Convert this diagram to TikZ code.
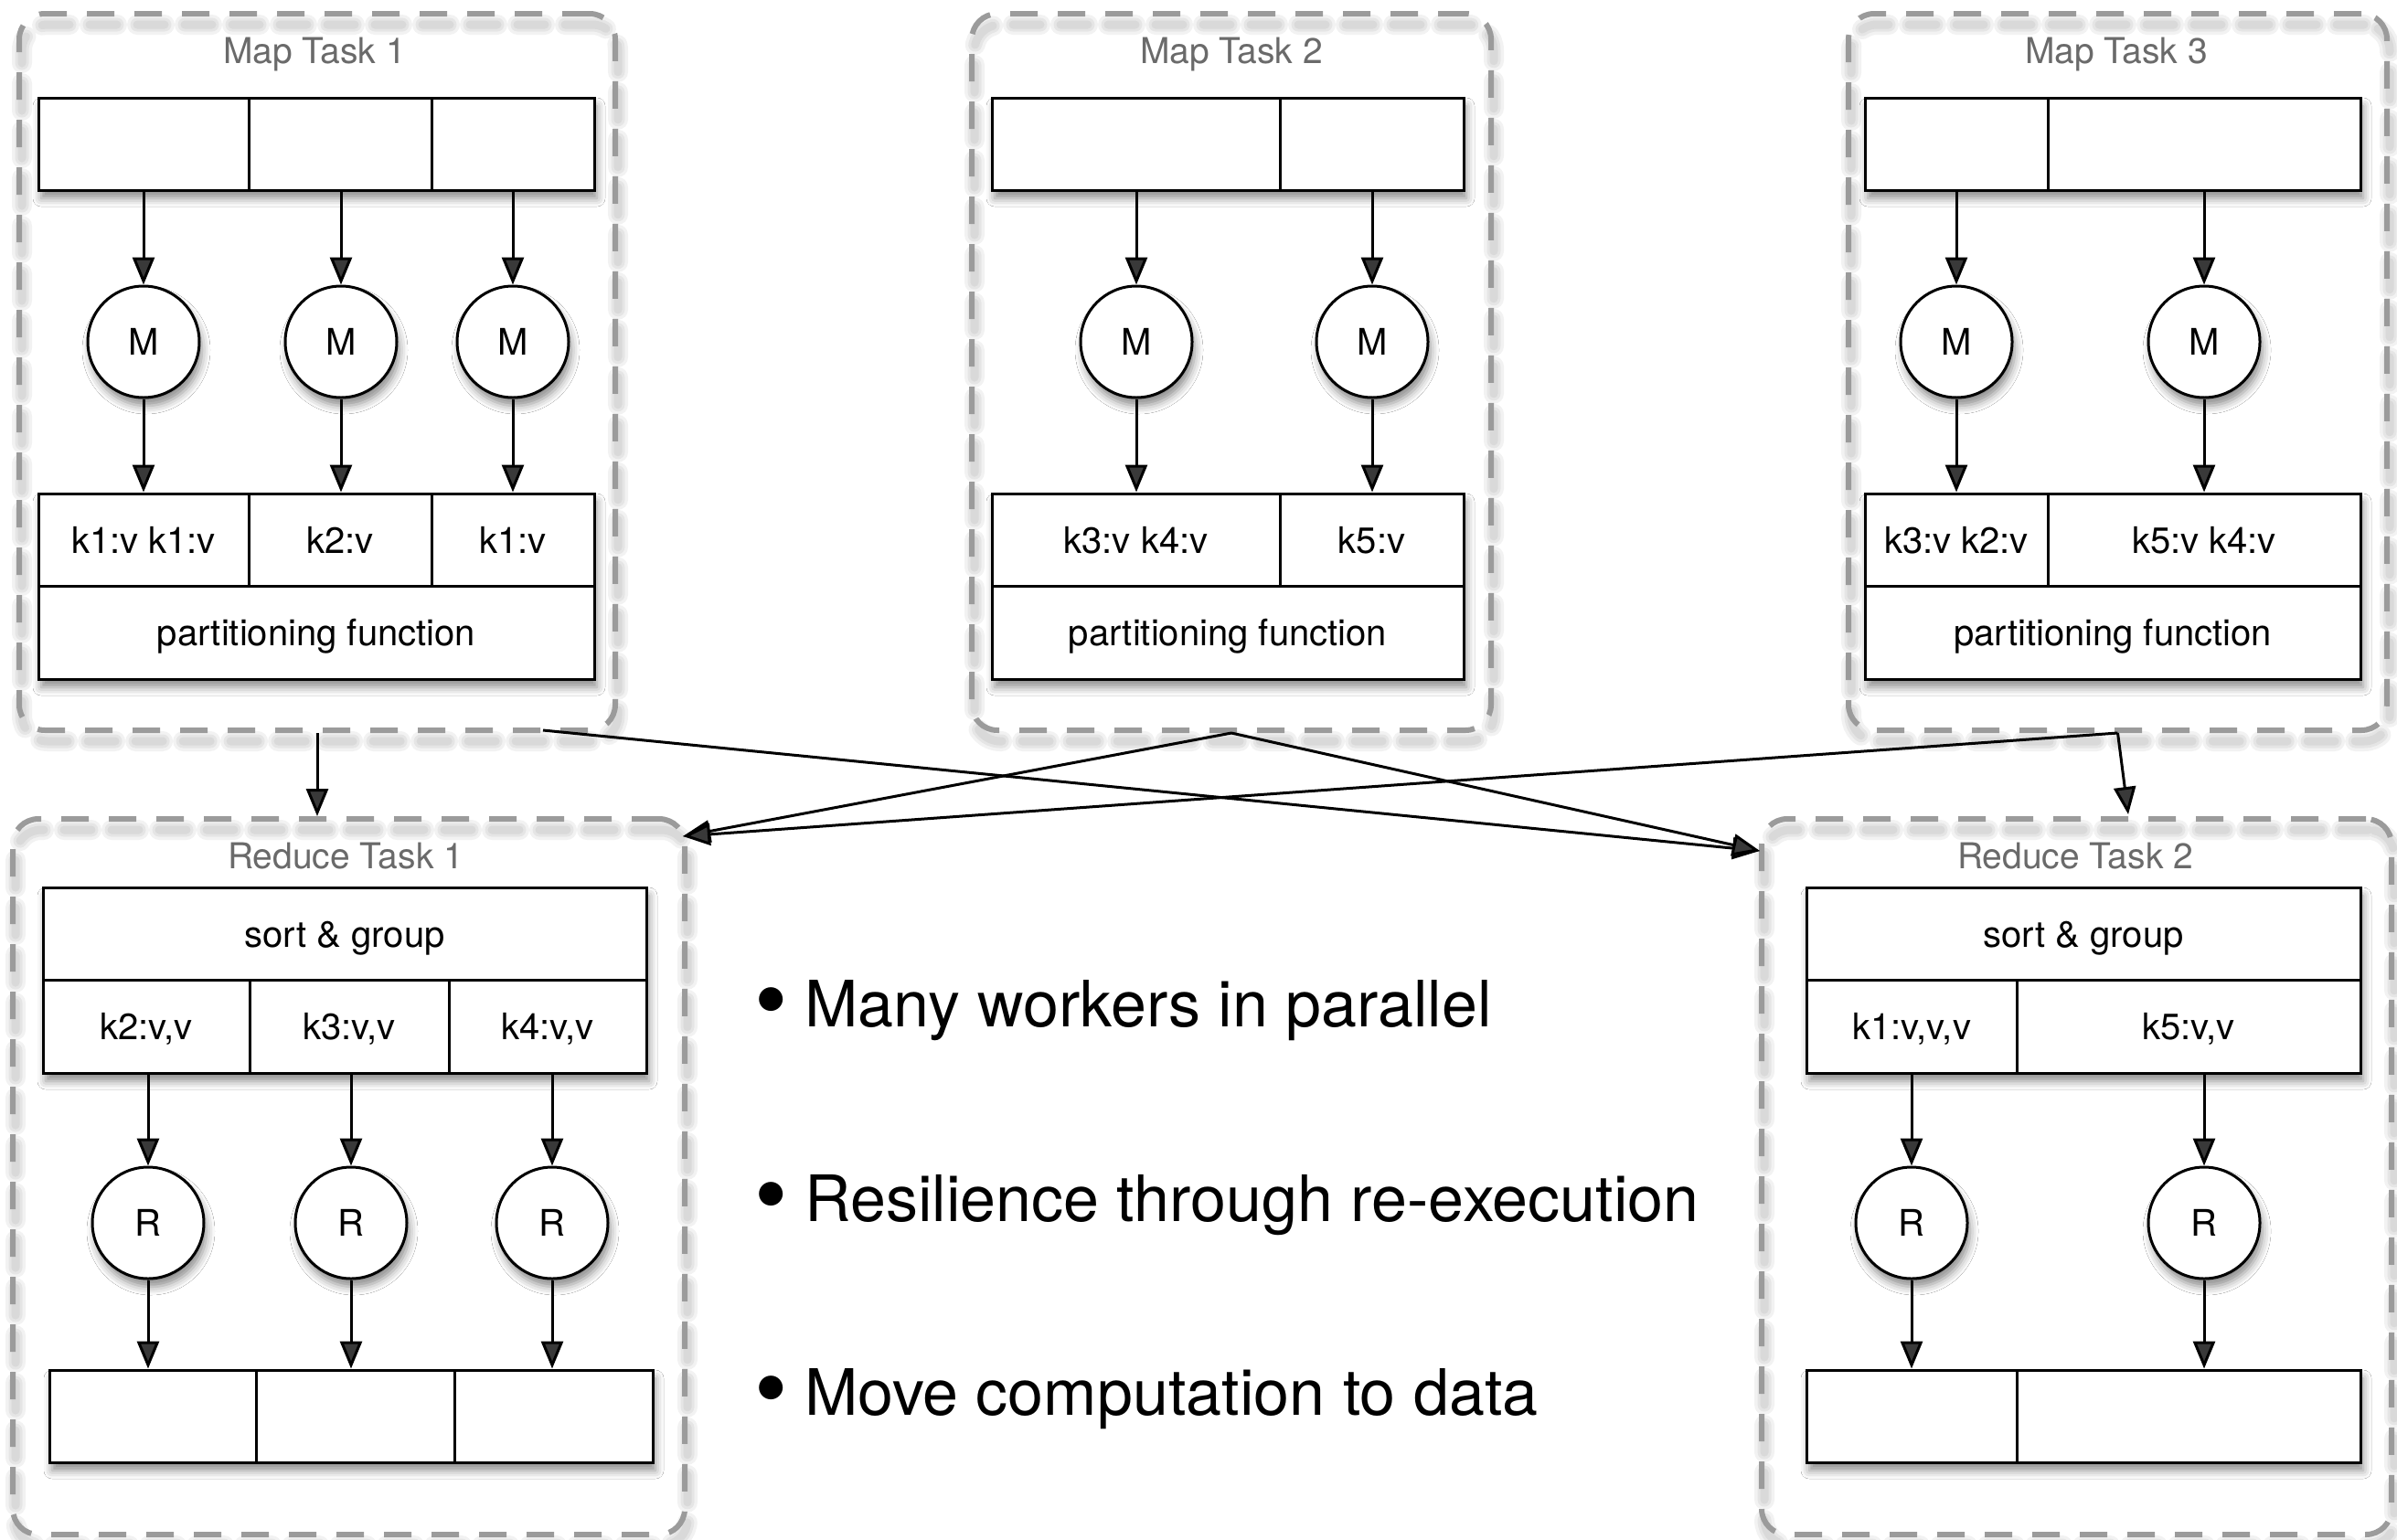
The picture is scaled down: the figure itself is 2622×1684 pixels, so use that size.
\documentclass[tikz,border=0pt]{standalone}
\usepackage{fontspec}
\setmainfont{TeX Gyre Heros}
\usetikzlibrary{arrows.meta,shadows.blur,calc}

\definecolor{framegray}{HTML}{9B9B9B}
\definecolor{titlegray}{HTML}{6A6A6A}

\tikzset{
  x=1pt, y=-1pt,
  softshadow/.style={blur shadow={shadow xshift=3pt, shadow yshift=-9pt,
      shadow blur radius=9pt, shadow opacity=45}},
  frame/.style={draw=framegray, line width=6pt, dash pattern=on 30pt off 22pt,
      rounded corners=28pt, inner sep=0pt},
  framehaze/.style={draw=black, line width=#1, opacity=0.05, line cap=round,
      dash pattern=on 30pt off 22pt, rounded corners=28pt, inner sep=0pt},
  cell/.style={draw=black, fill=white, line width=3pt, inner sep=0pt,
      text height=29pt, text depth=0pt, font=\fontsize{40}{48}\selectfont},
  rowback/.style={fill=white, softshadow},
  worker/.style={circle, draw=black, fill=white, line width=3pt, minimum size=122pt,
      inner sep=0pt, text height=29pt, text depth=0pt,
      font=\fontsize{40}{48}\selectfont, softshadow},
  arr/.style={line width=3pt, -{Triangle[length=30pt,width=24pt]}},
  tasktitle/.style={text=titlegray, anchor=base, inner sep=0pt,
      font=\fontsize{39}{47}\selectfont},
  bulletmark/.style={anchor=base west, inner sep=0pt, font=\fontsize{104}{120}\selectfont},
  bullettext/.style={anchor=base west, inner sep=0pt, font=\fontsize{70}{84}\selectfont},
}

% a cell from (x1,y1) to (x2,y2): name, x1, y1, x2, y2, text
\newcommand\cellat[6]{%
  \node[cell, minimum width={(#4)-(#2)}, minimum height={(#5)-(#3)}]
    (#1) at ({((#2)+(#4))/2},{((#3)+(#5))/2}) {#6};}
% the shadowed white ground under a row of cells
\newcommand\rowground[4]{\path[rowback] (#1,#2) rectangle (#3,#4);}
% a dashed task frame with a soft haze under it: name, x1, y1, x2, y2
\newcommand\taskframe[5]{%
  \foreach \w in {22,15,9} {
    \node[framehaze=\w pt, minimum width={(#4)-(#2)}, minimum height={(#5)-(#3)}]
      at ({((#2)+(#4))/2+3},{((#3)+(#5))/2+12}) {};
  }
  \node[frame, minimum width={(#4)-(#2)}, minimum height={(#5)-(#3)}]
    (#1) at ({((#2)+(#4))/2},{((#3)+(#5))/2}) {};}

\begin{document}
\begin{tikzpicture}
\useasboundingbox[fill=white] (0,0) rectangle (2622,1684);

% ---------------- Map Task 1 ----------------
\taskframe{map1}{21}{15}{673}{799}
\node[tasktitle] (map1t) at (344,69) {Map Task 1};
\rowground{42}{107}{650}{208}
\cellat{m1i1}{42}{107}{272}{208}{}
\cellat{m1i2}{272}{107}{472}{208}{}
\cellat{m1i3}{472}{107}{650}{208}{}
\node[worker] (m1w1) at (157,374) {M};
\node[worker] (m1w2) at (373,374) {M};
\node[worker] (m1w3) at (561,374) {M};
\rowground{42}{540}{650}{743}
\cellat{m1o1}{42}{540}{272}{641}{k1:v k1:v}
\cellat{m1o2}{272}{540}{472}{641}{k2:v}
\cellat{m1o3}{472}{540}{650}{641}{k1:v}
\cellat{m1p}{42}{641}{650}{743}{partitioning function}
\foreach \i in {1,2,3} {
  \draw[arr] (m1w\i |- m1i\i.south) -- (m1w\i.north);
  \draw[arr] (m1w\i.south) -- (m1w\i |- m1o\i.north);
}

% ---------------- Map Task 2 ----------------
\taskframe{map2}{1063}{15}{1631}{799}
\node[tasktitle] (map2t) at (1347,69) {Map Task 2};
\rowground{1085}{107}{1601}{208}
\cellat{m2i1}{1085}{107}{1400}{208}{}
\cellat{m2i2}{1400}{107}{1601}{208}{}
\node[worker] (m2w1) at (1243,374) {M};
\node[worker] (m2w2) at (1501,374) {M};
\rowground{1085}{540}{1601}{743}
\cellat{m2o1}{1085}{540}{1400}{641}{k3:v k4:v}
\cellat{m2o2}{1400}{540}{1601}{641}{k5:v}
\cellat{m2p}{1085}{641}{1601}{743}{partitioning function}
\foreach \i in {1,2} {
  \draw[arr] (m2w\i |- m2i\i.south) -- (m2w\i.north);
  \draw[arr] (m2w\i.south) -- (m2w\i |- m2o\i.north);
}

% ---------------- Map Task 3 ----------------
\taskframe{map3}{2022}{15}{2611}{799}
\node[tasktitle] (map3t) at (2315,69) {Map Task 3};
\rowground{2040}{107}{2582}{208}
\cellat{m3i1}{2040}{107}{2240}{208}{}
\cellat{m3i2}{2240}{107}{2582}{208}{}
\node[worker] (m3w1) at (2140,374) {M};
\node[worker] (m3w2) at (2411,374) {M};
\rowground{2040}{540}{2582}{743}
\cellat{m3o1}{2040}{540}{2240}{641}{k3:v k2:v}
\cellat{m3o2}{2240}{540}{2582}{641}{k5:v k4:v}
\cellat{m3p}{2040}{641}{2582}{743}{partitioning function}
\foreach \i in {1,2} {
  \draw[arr] (m3w\i |- m3i\i.south) -- (m3w\i.north);
  \draw[arr] (m3w\i.south) -- (m3w\i |- m3o\i.north);
}

% ---------------- Reduce Task 1 ----------------
\taskframe{red1}{14}{896}{749}{1679}
\node[tasktitle] (red1t) at (378,950) {Reduce Task 1};
\rowground{47}{971}{707}{1174}
\cellat{r1s}{47}{971}{707}{1072}{sort \& group}
\cellat{r1k1}{47}{1072}{273}{1174}{k2:v,v}
\cellat{r1k2}{273}{1072}{491}{1174}{k3:v,v}
\cellat{r1k3}{491}{1072}{707}{1174}{k4:v,v}
\node[worker] (r1w1) at (162,1338) {R};
\node[worker] (r1w2) at (384,1338) {R};
\node[worker] (r1w3) at (604,1338) {R};
\rowground{54}{1499}{714}{1600}
\cellat{r1o1}{54}{1499}{280}{1600}{}
\cellat{r1o2}{280}{1499}{497}{1600}{}
\cellat{r1o3}{497}{1499}{714}{1600}{}
\foreach \i in {1,2,3} {
  \draw[arr] (r1w\i |- r1k\i.south) -- (r1w\i.north);
  \draw[arr] (r1w\i.south) -- (r1w\i |- r1o\i.north);
}

% ---------------- Reduce Task 2 ----------------
\taskframe{red2}{1927}{896}{2616}{1679}
\node[tasktitle] (red2t) at (2270,950) {Reduce Task 2};
\rowground{1976}{971}{2582}{1174}
\cellat{r2s}{1976}{971}{2582}{1072}{sort \& group}
\cellat{r2k1}{1976}{1072}{2206}{1174}{k1:v,v,v}
\cellat{r2k2}{2206}{1072}{2582}{1174}{k5:v,v}
\node[worker] (r2w1) at (2091,1338) {R};
\node[worker] (r2w2) at (2411,1338) {R};
\rowground{1976}{1499}{2582}{1600}
\cellat{r2o1}{1976}{1499}{2206}{1600}{}
\cellat{r2o2}{2206}{1499}{2582}{1600}{}
\foreach \i in {1,2} {
  \draw[arr] (r2w\i |- r2k\i.south) -- (r2w\i.north);
  \draw[arr] (r2w\i.south) -- (r2w\i |- r2o\i.north);
}

% ---------------- shuffle between the tasks ----------------
\coordinate (m1x) at (594,799);
\coordinate (r1in) at (747,915);
\coordinate (r2in) at (1925,931);
\coordinate (r2top) at (2328,891);
\draw[arr] (map1.south) -- (map1.south |- red1.north);
\draw[arr] (m1x) -- (r2in);
\draw[arr] (map2.south) -- (r1in);
\draw[arr] (map2.south) -- (r2in);
\draw[arr] (map3.south) -- (r1in);
\draw[arr] (map3.south) -- (r2top);

% ---------------- key points ----------------
\node[bulletmark] (b1) at (825,1129) {•};
\node[bullettext] (t1) at (880,1123) {Many workers in parallel};
\node[bulletmark] (b2) at (825,1342) {•};
\node[bullettext] (t2) at (880,1336) {Resilience through re-execution};
\node[bulletmark] (b3) at (825,1554) {•};
\node[bullettext] (t3) at (880,1548) {Move computation to data};
\end{tikzpicture}
\end{document}
